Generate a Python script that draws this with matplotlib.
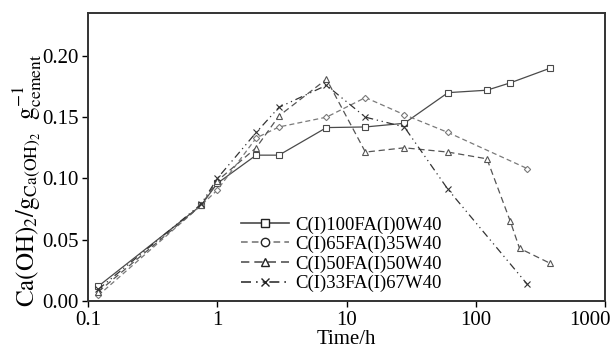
import matplotlib
matplotlib.use("Agg")
import matplotlib.pyplot as plt
from matplotlib.lines import Line2D
from matplotlib.transforms import ScaledTranslation

plt.rcParams['font.family'] = ['Liberation Serif', 'DejaVu Serif']
plt.rcParams['mathtext.fontset'] = 'stix'

labels = ['C(I)100FA(I)0W40', 'C(I)65FA(I)35W40', 'C(I)50FA(I)50W40', 'C(I)33FA(I)67W40']

t1 = [0.12, 0.75, 1, 2, 3, 7, 14, 28, 61, 122, 185, 377]
y1 = [0.012, 0.078, 0.096, 0.119, 0.119, 0.1415, 0.142, 0.145, 0.170, 0.172, 0.178, 0.190]

t2 = [0.12, 0.75, 1, 2, 3, 7, 14, 28, 61, 251]
y2 = [0.0045, 0.078, 0.0905, 0.133, 0.142, 0.150, 0.166, 0.152, 0.1375, 0.108]

t3 = [0.12, 0.75, 1, 2, 3, 7, 14, 28, 61, 122, 185, 218, 377]
y3 = [0.0075, 0.078, 0.098, 0.125, 0.151, 0.181, 0.1215, 0.125, 0.1215, 0.116, 0.065, 0.043, 0.0307]

t4 = [0.12, 0.75, 1, 2, 3, 7, 14, 28, 61, 251]
y4 = [0.0095, 0.079, 0.100, 0.1375, 0.158, 0.176, 0.150, 0.142, 0.091, 0.0135]

xticks = [0.1, 1, 10, 100, 1000]
xticklabels = ['0.1', '1', '10', '100', '1000']
yticks = [0.00, 0.05, 0.10, 0.15, 0.20]

fig = plt.figure(figsize=(6.12, 3.52), dpi=100)
ax = fig.add_axes([0.1438, 0.1449, 0.8448, 0.8182])

styles = [
    dict(color='#4a4a4a', ls='-', marker='s', lw=0.9),
    dict(color='#7a7a7a', ls=(0, (4, 2.5)), marker='D', lw=0.9),
    dict(color='#555555', ls=(0, (5, 3)), marker='^', lw=0.9),
    dict(color='#333333', ls=(0, (6, 3, 1, 3, 1, 3)), marker='x', lw=0.9),
]
legend_markers = ['s', 'o', '^', 'x']
series = [(t1, y1), (t2, y2), (t3, y3), (t4, y4)]

for (t, y), st in zip(series, styles):
    ms = 3.2 if st['marker'] == 'D' else 4.5
    ax.plot(t, y, color=st['color'], ls=st['ls'], lw=st['lw'], marker=st['marker'],
            ms=ms, mfc='white', mec=st['color'], mew=0.8)

handles = [Line2D([0], [0], color=st['color'], ls=st['ls'], lw=1.2, marker=m,
                  ms=6, mfc='white', mec='#222222', mew=1.0)
           for st, m in zip(styles, legend_markers)]
ax.legend(handles, labels, loc='upper left', bbox_to_anchor=(0.27, 0.34),
          frameon=False, fontsize=13.5, handlelength=2.6, labelspacing=0.12,
          handletextpad=0.3, borderpad=0.2)

ax.set_xscale('log')
ax.set_xlim(0.1, 1000)
ax.set_ylim(0, 0.235)
ax.set_xticks(xticks)
ax.set_xticklabels(xticklabels)
ax.minorticks_off()
ax.set_yticks(yticks)
ax.set_yticklabels([f'{v:.2f}' for v in yticks])
ax.tick_params(direction='out', length=4, width=1.0, labelsize=15, pad=3,
               top=False, right=False)
last = ax.get_xticklabels()[-1]
last.set_horizontalalignment('right')
last.set_transform(last.get_transform() + ScaledTranslation(6 / 100, 0, fig.dpi_scale_trans))
for s in ax.spines.values():
    s.set_linewidth(1.4)
    s.set_color('#333333')

ax.set_xlabel('Time/h', fontsize=15, labelpad=0)
ax.set_ylabel(r'$\mathrm{Ca(OH)_2/g_{Ca(OH)_2}\ \ g_{cement}^{-1}}$', fontsize=18)
ax.yaxis.set_label_coords(-0.085, 0.42)

fig.savefig('out.png', dpi=100)
